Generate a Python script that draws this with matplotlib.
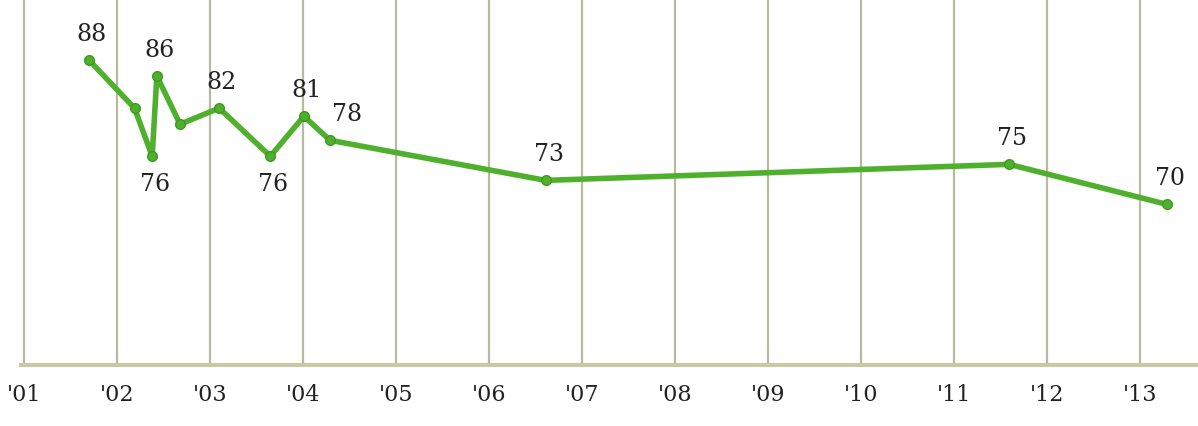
import matplotlib
matplotlib.use("Agg")
import matplotlib.pyplot as plt

# Data (decimal year, approval %)
dates = [2001.70, 2002.19, 2002.38, 2002.43, 2002.68, 2003.10, 2003.65,
         2004.01, 2004.29, 2006.61, 2011.59, 2013.29]
values = [88, 82, 76, 86, 80, 82, 76, 81, 78, 73, 75, 70]
shown = [True, False, True, True, False, True, True, True, True, True, True, True]
years = list(range(2001, 2014))
tick_labels = ["'01", "'02", "'03", "'04", "'05", "'06", "'07", "'08",
               "'09", "'10", "'11", "'12", "'13"]

W, H = 1198, 427
fig = plt.figure(figsize=(W / 100, H / 100), dpi=100)
left_px, bottom_px = 21, 61
ax = fig.add_axes([left_px / W, bottom_px / H, 1 - left_px / W, 1 - bottom_px / H])

ax.set_xlim(2000.97, 2013.62)
ax.set_ylim(50, 95.6)

grid_col = "#b9b8a0"
for y in years:
    ax.axvline(y, color=grid_col, lw=1.6, zorder=1)

for s in ["top", "right", "left"]:
    ax.spines[s].set_visible(False)
ax.spines["bottom"].set_color("#c9c9a6")
ax.spines["bottom"].set_linewidth(3)

green = "#4fb02d"
ax.plot(dates, values, color=green, lw=4, marker="o", markersize=7,
        markerfacecolor=green, markeredgecolor="#3e9a22", markeredgewidth=1,
        zorder=3, solid_joinstyle="round")

below = {2, 6}
shift_right = {8}
for i, (d, v, s) in enumerate(zip(dates, values, shown)):
    if not s:
        continue
    if i in below:
        off = (2, -11)
        va = "top"
    elif i in shift_right:
        off = (12, 11)
        va = "bottom"
    else:
        off = (2, 11)
        va = "bottom"
    ax.annotate(str(v), (d, v), xytext=off, textcoords="offset points",
                ha="center", va=va, fontsize=17, family="DejaVu Serif",
                color="#222222", zorder=4)

ax.set_yticks([])
ax.set_xticks(years)
ax.set_xticklabels(tick_labels, family="DejaVu Serif", fontsize=16, color="#222222")
ax.tick_params(axis="x", length=0, pad=13)

fig.savefig("out.png", dpi=100, facecolor="white")
